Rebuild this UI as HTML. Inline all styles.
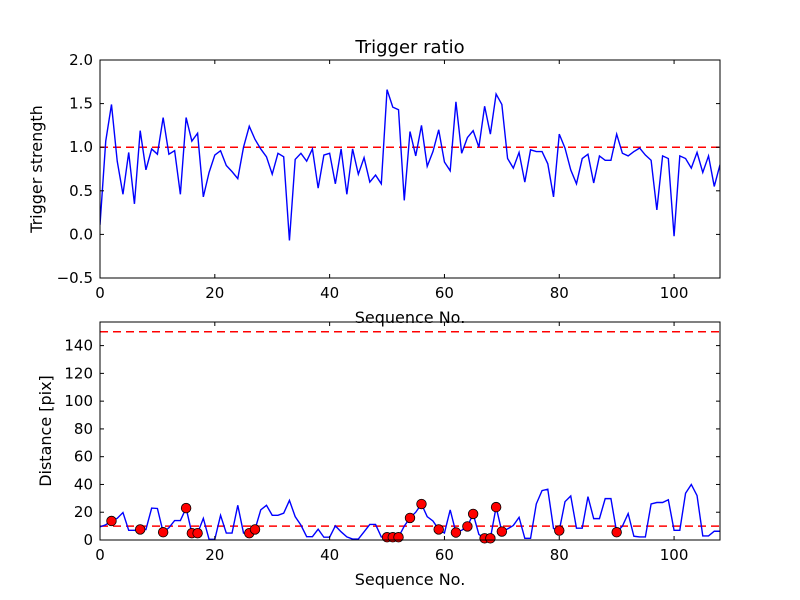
<!DOCTYPE html>
<html><head><meta charset="utf-8"><style>
body{margin:0;background:#fff}
svg{display:block;font-family:"DejaVu Sans","Liberation Sans",sans-serif}
</style></head><body>
<svg id="c" width="800" height="600" xmlns="http://www.w3.org/2000/svg">
<rect width="800" height="600" fill="#fff"/>
</svg>
<script>
const xMax = 108;
const ratio = [0.11,1.07,1.49,0.84,0.46,0.94,0.35,1.19,0.74,0.98,0.92,1.34,0.92,0.96,0.46,1.34,1.07,1.16,0.43,0.71,0.91,0.96,0.79,0.72,0.64,1.00,1.24,1.09,0.98,0.89,0.69,0.93,0.89,-0.07,0.86,0.93,0.84,0.98,0.53,0.91,0.93,0.58,0.98,0.46,0.98,0.69,0.88,0.60,0.68,0.58,1.66,1.46,1.43,0.39,1.18,0.90,1.25,0.78,0.95,1.20,0.83,0.73,1.52,0.93,1.11,1.19,1.00,1.47,1.15,1.61,1.49,0.87,0.76,0.94,0.60,0.97,0.95,0.95,0.81,0.43,1.15,0.99,0.74,0.58,0.87,0.92,0.59,0.90,0.85,0.85,1.15,0.93,0.90,0.95,0.99,0.91,0.85,0.28,0.90,0.87,-0.02,0.90,0.87,0.76,0.94,0.71,0.90,0.55,0.80];
const dist = [9.5,11,13.7,15.6,19.8,7,7,7.6,7.5,23,22.7,5.6,8.8,14,14,23,4.9,4.9,15.6,0.5,0.5,17.8,5,5,25,5,4.9,7.6,21.7,25,17.8,17.8,19.3,28.5,16.8,10.7,2.4,2.4,7.8,2,2,10.2,5.9,2.2,0.7,0.7,5.9,11.2,11.2,2.2,2,2,2,10,15.9,20,25.9,16.8,13.7,7.6,5,21.7,5.4,7,9.8,18.8,4,1.2,1.2,23.7,6.1,8,10.5,16.3,1.2,1.2,26,35.6,36.6,8.3,6.8,27.6,31.7,8.5,8.5,31.2,15.4,15.4,29.8,29.8,5.6,10,19,2.7,2.2,2.2,26,27,27,29,7,7,33.7,40,32,2.9,2.9,6.3,6.3];
const markerIdx = [2,7,11,15,16,17,26,27,50,51,52,54,56,59,62,64,65,67,68,69,70,80,90];
const xTicks = [0,20,40,60,80,100];
const topTicks = [-0.5,0,0.5,1.0,1.5,2.0];
const topTickLabels = ["\u22120.5","0.0","0.5","1.0","1.5","2.0"];
const botTicks = [0,20,40,60,80,100,120,140];
const topThreshold = 1.0;
const botThresholds = [10,150];

const NS="http://www.w3.org/2000/svg", svg=document.getElementById('c');
function mk(tag,attrs,parent){const e=document.createElementNS(NS,tag);for(const k in attrs)e.setAttribute(k,attrs[k]);(parent||svg).appendChild(e);return e;}
const L=100,R=720;
const sx=v=>L+(v/xMax)*(R-L);
const T1=60,B1=278,ty=v=>B1-(v+0.5)/2.5*(B1-T1);
const T2=322,B2=540,by=v=>B2-v/157*(B2-T2);

function axes(top,bot,yt,ylab,yfn,name){
  const g=mk('g',{});
  
  
  xTicks.forEach(t=>{const x=sx(t);
    mk('line',{x1:x,x2:x,y1:bot,y2:bot-4,stroke:'#000'},g);mk('line',{x1:x,x2:x,y1:top,y2:top+4,stroke:'#000'},g);
    const tx=mk('text',{x:x,y:bot+20,'font-size':15,'text-anchor':'middle'},g);tx.textContent=t;
    
    });
  yt.forEach((t,i)=>{const y=yfn(t);
    mk('line',{x1:L,x2:L+4,y1:y,y2:y,stroke:'#000'},g);mk('line',{x1:R,x2:R-4,y1:y,y2:y,stroke:'#000'},g);
    const tx=mk('text',{x:L-7,y:y+5,'font-size':15,'text-anchor':'end'},g);tx.textContent=ylab?ylab[i]:t;
    
    });
  return g;
}
function line(vals,fn){return vals.map((v,i)=>(i?'L':'M')+sx(i).toFixed(2)+','+fn(v).toFixed(2)).join('');}
const c1=mk('clipPath',{id:'c1'});mk('rect',{x:L,y:T1,width:R-L,height:B1-T1},c1);
const c2=mk('clipPath',{id:'c2'});mk('rect',{x:L,y:T2,width:R-L,height:B2-T2},c2);

// top
let h=mk('line',{x1:L,x2:R,y1:ty(topThreshold),y2:ty(topThreshold),stroke:'#f00','stroke-width':1.5,'stroke-dasharray':'8,5'});


let p=mk('path',{d:line(ratio,ty),fill:'none',stroke:'#00f','stroke-width':1.4,'clip-path':'url(#c1)'});


axes(T1,B1,topTicks,topTickLabels,ty,'top-axes');
let f=mk('rect',{x:L,y:T1,width:R-L,height:B1-T1,fill:'none',stroke:'#000'});



// bottom
botThresholds.forEach(v=>{const l=mk('line',{x1:L,x2:R,y1:by(v),y2:by(v),stroke:'#f00','stroke-width':1.5,'stroke-dasharray':'8,5'});
  
  });
p=mk('path',{d:line(dist,by),fill:'none',stroke:'#00f','stroke-width':1.4,'clip-path':'url(#c2)'});


markerIdx.forEach(i=>{const c=mk('circle',{cx:sx(i),cy:by(dist[i]),r:4.8,fill:'#f00',stroke:'#000','stroke-width':0.8});
  
  });
axes(T2,B2,botTicks,null,by,'bottom-axes');
f=mk('rect',{x:L,y:T2,width:R-L,height:B2-T2,fill:'none',stroke:'#000'});



function txt(s,x,y,size,name,rot){const t=mk('text',{x:x,y:y,'font-size':size,'text-anchor':'middle'});
  if(rot)t.setAttribute('transform','rotate(-90 '+x+' '+y+')');t.textContent=s;
  
  }
txt('Trigger ratio',410,53,18,'chart-title');
txt('Sequence No.',410,323,16,'top-x-axis-title');
txt('Trigger strength',42,169,16,'top-y-axis-title',true);
txt('Sequence No.',410,585,16,'bottom-x-axis-title');
txt('Distance [pix]',51,431,16,'bottom-y-axis-title',true);
</script>
</body></html>
